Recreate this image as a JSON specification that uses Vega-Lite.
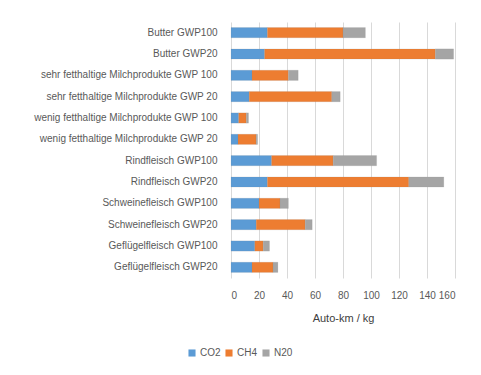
{
  "$schema": "https://vega.github.io/schema/vega-lite/v6.json",
  "autosize": "none",
  "width": 224,
  "height": 256,
  "padding": {"left": 231, "top": 22, "right": 26, "bottom": 97},
  "background": "white",
  "config": {
    "font": "Liberation Sans",
    "view": {"stroke": null},
    "axis": {"labelColor": "#595959", "titleColor": "#404040", "labelFontSize": 10, "titleFontWeight": "normal"}
  },
  "data": {"values": [
    {"cat": "Butter GWP100", "gas": "CO2", "n": 1, "v": 26},
    {"cat": "Butter GWP100", "gas": "CH4", "n": 2, "v": 54},
    {"cat": "Butter GWP100", "gas": "N20", "n": 3, "v": 16},
    {"cat": "Butter GWP20", "gas": "CO2", "n": 1, "v": 24},
    {"cat": "Butter GWP20", "gas": "CH4", "n": 2, "v": 122},
    {"cat": "Butter GWP20", "gas": "N20", "n": 3, "v": 13},
    {"cat": "sehr fetthaltige Milchprodukte GWP 100", "gas": "CO2", "n": 1, "v": 15},
    {"cat": "sehr fetthaltige Milchprodukte GWP 100", "gas": "CH4", "n": 2, "v": 26},
    {"cat": "sehr fetthaltige Milchprodukte GWP 100", "gas": "N20", "n": 3, "v": 7},
    {"cat": "sehr fetthaltige Milchprodukte GWP 20", "gas": "CO2", "n": 1, "v": 13},
    {"cat": "sehr fetthaltige Milchprodukte GWP 20", "gas": "CH4", "n": 2, "v": 59},
    {"cat": "sehr fetthaltige Milchprodukte GWP 20", "gas": "N20", "n": 3, "v": 6},
    {"cat": "wenig fetthaltige Milchprodukte GWP 100", "gas": "CO2", "n": 1, "v": 5.5},
    {"cat": "wenig fetthaltige Milchprodukte GWP 100", "gas": "CH4", "n": 2, "v": 5.5},
    {"cat": "wenig fetthaltige Milchprodukte GWP 100", "gas": "N20", "n": 3, "v": 1.5},
    {"cat": "wenig fetthaltige Milchprodukte GWP 20", "gas": "CO2", "n": 1, "v": 5},
    {"cat": "wenig fetthaltige Milchprodukte GWP 20", "gas": "CH4", "n": 2, "v": 13},
    {"cat": "wenig fetthaltige Milchprodukte GWP 20", "gas": "N20", "n": 3, "v": 1},
    {"cat": "Rindfleisch GWP100", "gas": "CO2", "n": 1, "v": 29},
    {"cat": "Rindfleisch GWP100", "gas": "CH4", "n": 2, "v": 44},
    {"cat": "Rindfleisch GWP100", "gas": "N20", "n": 3, "v": 31},
    {"cat": "Rindfleisch GWP20", "gas": "CO2", "n": 1, "v": 26},
    {"cat": "Rindfleisch GWP20", "gas": "CH4", "n": 2, "v": 101},
    {"cat": "Rindfleisch GWP20", "gas": "N20", "n": 3, "v": 25},
    {"cat": "Schweinefleisch GWP100", "gas": "CO2", "n": 1, "v": 20},
    {"cat": "Schweinefleisch GWP100", "gas": "CH4", "n": 2, "v": 15},
    {"cat": "Schweinefleisch GWP100", "gas": "N20", "n": 3, "v": 6},
    {"cat": "Schweinefleisch GWP20", "gas": "CO2", "n": 1, "v": 18},
    {"cat": "Schweinefleisch GWP20", "gas": "CH4", "n": 2, "v": 35},
    {"cat": "Schweinefleisch GWP20", "gas": "N20", "n": 3, "v": 5},
    {"cat": "Geflügelfleisch GWP100", "gas": "CO2", "n": 1, "v": 17},
    {"cat": "Geflügelfleisch GWP100", "gas": "CH4", "n": 2, "v": 6},
    {"cat": "Geflügelfleisch GWP100", "gas": "N20", "n": 3, "v": 4.5},
    {"cat": "Geflügelfleisch GWP20", "gas": "CO2", "n": 1, "v": 15},
    {"cat": "Geflügelfleisch GWP20", "gas": "CH4", "n": 2, "v": 15},
    {"cat": "Geflügelfleisch GWP20", "gas": "N20", "n": 3, "v": 3.5}
  ]},
  "mark": {"type": "bar", "stroke": "#7f7f7f", "strokeOpacity": 0.25, "strokeWidth": 0.5},
  "encoding": {
    "y": {
      "field": "cat", "type": "nominal", "sort": null,
      "scale": {"paddingInner": 0.52, "paddingOuter": 0.26},
      "axis": {"title": null, "ticks": false, "domain": false, "labelPadding": 14, "labelLimit": 230}
    },
    "x": {
      "field": "v", "type": "quantitative", "stack": "zero",
      "scale": {"domain": [0, 160], "nice": false},
      "axis": {"values": [0, 20, 40, 60, 80, 100, 120, 140, 160], "title": "Auto-km  / kg", "titleFontSize": 11, "titlePadding": 12,
        "grid": true, "gridColor": "#d9d9d9", "ticks": false, "domain": false, "labelPadding": 12}
    },
    "color": {
      "field": "gas", "type": "nominal", "sort": ["CO2", "CH4", "N20"],
      "scale": {"domain": ["CO2", "CH4", "N20"], "range": ["#5b9bd5", "#ed7d31", "#a5a5a5"]},
      "legend": {"title": null, "orient": "none", "direction": "horizontal", "legendX": -44, "legendY": 326,
        "symbolType": "square", "symbolSize": 50, "labelFontSize": 10, "labelColor": "#595959", "columnPadding": 3, "labelOffset": 3, "symbolStrokeWidth": 0}
    },
    "order": {"field": "n", "type": "quantitative", "sort": "ascending"}
  }
}
